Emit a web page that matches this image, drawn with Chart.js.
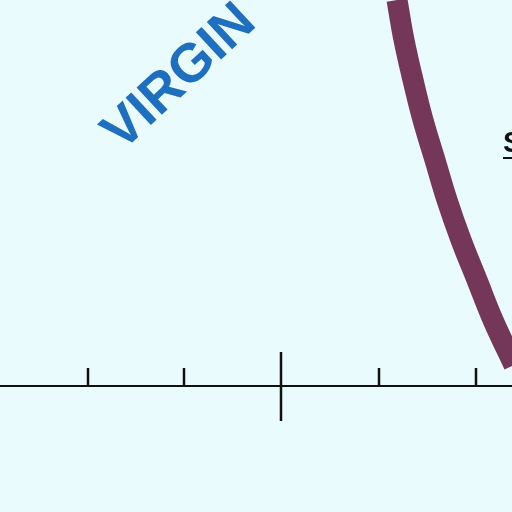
<!DOCTYPE html>
<html>
<head>
<meta charset="utf-8">
<script src="https://cdn.jsdelivr.net/npm/chart.js@4"></script>
<style>
  html, body { margin: 0; padding: 0; background: #e9fbfd; }
  #map { display: block; }
</style>
</head>
<body>
<canvas id="map" width="512" height="512"></canvas>
<script>
// Map fragment values (x/y in map units, y grows downward)
const boundaryX = [397, 404, 413, 423, 435, 447, 461, 477, 493, 514];
const boundaryY = [0, 40, 80, 120, 160, 200, 240, 280, 320, 365];

const scaleBarX = [0, 512];
const scaleBarY = [386, 386];
const minorTickX = [88, 184, 379, 476];
const minorTickY = [368, 386];
const majorTickX = [281];
const majorTickY = [352, 421];

const labels = ['VIRGIN', 'S'];
const labelX = [122, 503];
const labelY = [152, 152];

// Build point lists for the tick marks, broken up with nulls so each is its own segment
function tickPoints(xs, ys) {
    const pts = [];
    xs.forEach(x => {
        pts.push({ x: x, y: ys[0] });
        pts.push({ x: x, y: ys[1] });
        pts.push({ x: x, y: null });
    });
    return pts;
}

const labelPlugin = {
    id: 'mapLabels',
    afterDatasetsDraw(chart) {
        const ctx = chart.ctx;
        const xs = chart.scales.x;
        const ys = chart.scales.y;

        // state name, written on a slant
        ctx.save();
        ctx.translate(xs.getPixelForValue(labelX[0]), ys.getPixelForValue(labelY[0]));
        ctx.rotate(-43 * Math.PI / 180);
        ctx.fillStyle = '#1e6fc0';
        ctx.font = 'bold 54px "Liberation Sans", Arial, sans-serif';
        ctx.textBaseline = 'alphabetic';
        ctx.fillText(labels[0], 0, 0);
        ctx.restore();

        // underlined label cut off at the right edge
        const sx = xs.getPixelForValue(labelX[1]);
        const sy = ys.getPixelForValue(labelY[1]);
        ctx.save();
        ctx.fillStyle = '#111';
        ctx.font = 'bold 29px "Liberation Sans", Arial, sans-serif';
        ctx.fillText(labels[1], sx, sy);
        ctx.fillRect(sx, sy + 5, 30, 2);
        ctx.restore();
    }
};

new Chart(document.getElementById('map'), {
    type: 'scatter',
    data: {
        datasets: [
            {
                data: boundaryX.map((x, i) => ({ x: x, y: boundaryY[i] })),
                showLine: true,
                borderColor: '#743759',
                borderWidth: 21,
                tension: 0.4,
                pointRadius: 0
            },
            {
                data: scaleBarX.map((x, i) => ({ x: x, y: scaleBarY[i] })),
                showLine: true,
                borderColor: '#111',
                borderWidth: 2,
                pointRadius: 0
            },
            {
                data: tickPoints(minorTickX, minorTickY),
                showLine: true,
                spanGaps: false,
                borderColor: '#111',
                borderWidth: 2.5,
                pointRadius: 0
            },
            {
                data: tickPoints(majorTickX, majorTickY),
                showLine: true,
                spanGaps: false,
                borderColor: '#111',
                borderWidth: 2.5,
                pointRadius: 0
            }
        ]
    },
    options: {
        responsive: false,
        animation: false,
        layout: { padding: 0 },
        plugins: {
            legend: { display: false },
            tooltip: { enabled: false }
        },
        scales: {
            x: { type: 'linear', min: 0, max: 512, display: false },
            y: { type: 'linear', min: 0, max: 512, reverse: true, display: false }
        }
    },
    plugins: [labelPlugin]
});
</script>
</body>
</html>
